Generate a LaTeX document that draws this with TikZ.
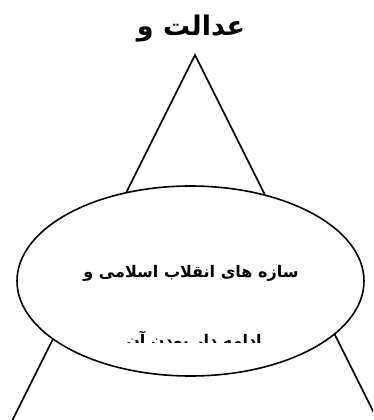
\documentclass[tikz,border=0pt]{standalone}
\usepackage{fontspec}
\usetikzlibrary{shapes.geometric}
\TeXXeTstate=1
\newfontfamily\arabicfont[Script=Arabic]{DejaVu Sans}
\begin{document}
\begin{tikzpicture}[x=1pt,y=-1pt,
  edge/.style={line width=1.6pt},
  oval/.style={ellipse,draw,line width=1.6pt,fill=white,minimum width=347pt,minimum height=190pt,inner sep=0pt},
  title/.style={font=\arabicfont\bfseries\fontsize{27}{30}\selectfont,inner sep=0pt},
  body/.style={font=\arabicfont\bfseries\fontsize{16}{19}\selectfont,inner sep=0pt}]
\useasboundingbox (0,0) rectangle (373,420);
\clip (0,0) rectangle (373,420);
\coordinate (apex) at (195,55);
\coordinate (bl) at (12,421);
\coordinate (br) at (378,421);
\draw[edge] (bl) -- (apex) -- (br);
\node[oval] (e) at (190.5,281) {};
\node[title,anchor=base] (t) at (191,36) {\beginR عدالت و\endR};
\node[body,anchor=base] (l1) at (191,277) {\beginR سازه های انقلاب اسلامی و\endR};
\begin{scope}
\clip (0,0) rectangle (373,342);
\node[body,anchor=base] (l2) at (194,346) {\beginR ادامه دار بودن آن\endR};
\end{scope}
\end{tikzpicture}
\end{document}
